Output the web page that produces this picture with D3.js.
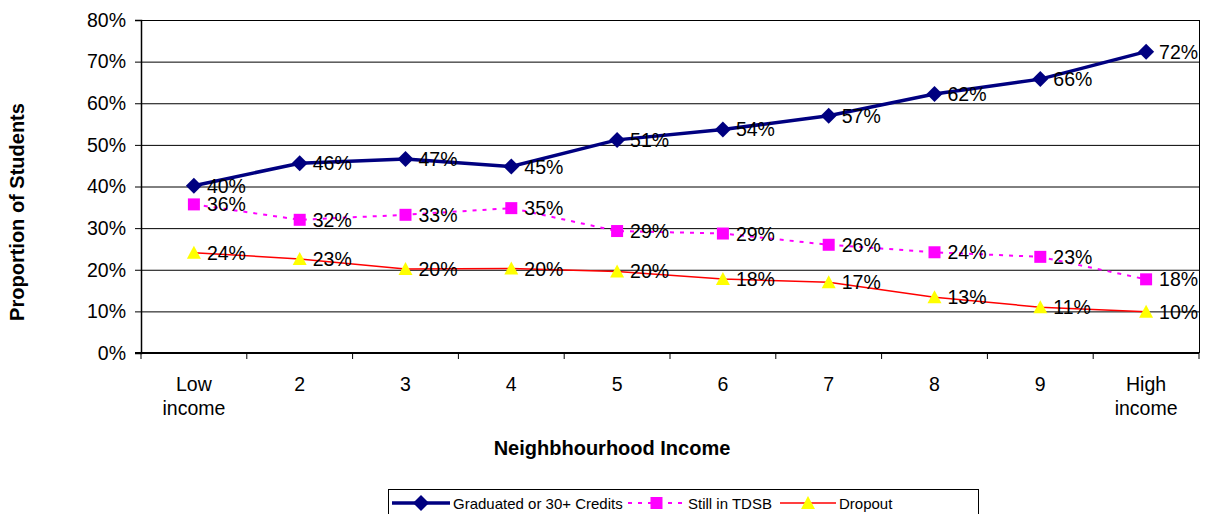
<!DOCTYPE html>
<html>
<head>
<meta charset="utf-8">
<script src="https://cdn.jsdelivr.net/npm/d3@7"></script>
<style>
  body { margin: 0; background: #fff; }
  svg { display: block; font-family: Arial, "Liberation Sans", sans-serif; }
</style>
</head>
<body>
<svg id="chart" width="1208" height="514"></svg>
<script>
// categories along x
const categories = ['Low\nincome', '2', '3', '4', '5', '6', '7', '8', '9', 'High\nincome'];
// proportions (%)
const graduated = [40.2, 45.6, 46.6, 44.8, 51.2, 53.7, 57.0, 62.2, 65.8, 72.4];
const stillInTDSB = [35.7, 32.0, 33.2, 34.8, 29.3, 28.7, 26.0, 24.2, 23.1, 17.7];
const dropout = [24.1, 22.6, 20.2, 20.3, 19.6, 17.8, 17.0, 13.4, 11.0, 9.9];
const yTicks = [0, 10, 20, 30, 40, 50, 60, 70, 80];

const series = [
  { name: 'Graduated or 30+ Credits', values: graduated, color: '#000080', width: 3.5, dash: null, marker: 'diamond', mfill: '#000080' },
  { name: 'Still in TDSB', values: stillInTDSB, color: '#ff00ff', width: 2, dash: '4,6', marker: 'square', mfill: '#ff00ff' },
  { name: 'Dropout', values: dropout, color: '#ff0000', width: 1.5, dash: null, marker: 'triangle', mfill: '#ffff00' }
];

const plotL = 141, plotR = 1199, plotT = 20, plotB = 353;
const svg = d3.select('#chart');

const x = d3.scaleBand().domain(d3.range(categories.length)).range([plotL, plotR]);
const y = d3.scaleLinear().domain([0, 80]).range([plotB, plotT]);

// gridlines
svg.append('g')
  .selectAll('line')
  .data(yTicks.filter(t => t > 0))
  .enter()
  .append('line')
  .attr('x1', plotL).attr('x2', plotR)
  .attr('y1', d => y(d) + 0.5).attr('y2', d => y(d) + 0.5)
  .attr('stroke', '#000').attr('stroke-width', 1);

// right border
svg.append('line')
  .attr('x1', plotR + 0.5).attr('x2', plotR + 0.5).attr('y1', plotT).attr('y2', plotB)
  .attr('stroke', '#000');

// y axis
const yAxis = svg.append('g')
  .attr('transform', `translate(${plotL},0)`)
  .call(d3.axisLeft(y).tickValues(yTicks).tickFormat(d => d + '%').tickSize(6).tickPadding(9));
yAxis.select('.domain').attr('stroke', '#000').attr('stroke-width', 1.5);
yAxis.selectAll('text').attr('font-size', 19.5).attr('fill', '#000').attr('font-family', 'Arial, "Liberation Sans", sans-serif');

// x axis, ticks between categories
const xAxisG = svg.append('g').attr('transform', `translate(0,${plotB})`);
xAxisG.append('line')
  .attr('x1', plotL - 6).attr('x2', plotR).attr('y1', 0).attr('y2', 0)
  .attr('stroke', '#000').attr('stroke-width', 2);
xAxisG.selectAll('line.tick')
  .data(d3.range(categories.length + 1))
  .enter()
  .append('line')
  .attr('class', 'tick')
  .attr('x1', i => plotL + i * x.bandwidth()).attr('x2', i => plotL + i * x.bandwidth())
  .attr('y1', 0).attr('y2', 6)
  .attr('stroke', '#000');
const xLabels = xAxisG.selectAll('text')
  .data(categories)
  .enter()
  .append('text')
  .attr('text-anchor', 'middle')
  .attr('font-size', 19.5)
  .attr('fill', '#000');
xLabels.each(function (d, i) {
  const lines = d.split('\n');
  lines.forEach((ln, k) => {
    d3.select(this).append('tspan')
      .attr('x', x(i) + x.bandwidth() / 2)
      .attr('y', 38 + k * 24)
      .text(ln);
  });
});

// axis titles
svg.append('text')
  .attr('x', 612).attr('y', 455)
  .attr('text-anchor', 'middle')
  .attr('font-size', 20).attr('font-weight', 'bold')
  .text('Neighbhourhood Income');
svg.append('text')
  .attr('transform', 'translate(24,212) rotate(-90)')
  .attr('text-anchor', 'middle')
  .attr('font-size', 20).attr('font-weight', 'bold')
  .text('Proportion of Students');

const cx = i => x(i) + x.bandwidth() / 2;

function markerPath(type) {
  if (type === 'diamond') return 'M0,-8L8,0L0,8L-8,0Z';
  if (type === 'square') return 'M-6,-6H6V6H-6Z';
  return 'M0,-7L7,6H-7Z';
}

const line = d3.line().x((d, i) => cx(i)).y(d => y(d));

series.forEach(s => {
  svg.append('path')
    .datum(s.values)
    .attr('d', line)
    .attr('fill', 'none')
    .attr('stroke', s.color)
    .attr('stroke-width', s.width)
    .attr('stroke-dasharray', s.dash);
});

series.forEach(s => {
  const g = svg.append('g');
  g.selectAll('path')
    .data(s.values)
    .enter()
    .append('path')
    .attr('transform', (d, i) => `translate(${cx(i)},${y(d)})`)
    .attr('d', markerPath(s.marker))
    .attr('fill', s.mfill);
  g.selectAll('text')
    .data(s.values)
    .enter()
    .append('text')
    .attr('x', (d, i) => cx(i) + 13)
    .attr('y', d => y(d) + 7)
    .attr('font-size', 19.5)
    .attr('fill', '#000')
    .text(d => Math.round(d) + '%');
});

// legend
const legend = svg.append('g');
legend.append('rect')
  .attr('x', 388.5).attr('y', 489.5).attr('width', 590).attr('height', 30)
  .attr('fill', '#fff').attr('stroke', '#000');
const legendItems = [
  { s: series[0], x0: 392, tx: 453 },
  { s: series[1], x0: 628, tx: 688 },
  { s: series[2], x0: 780, tx: 839 }
];
legendItems.forEach(it => {
  const w = it.tx - it.x0 - 3;
  const my = 503;
  legend.append('line')
    .attr('x1', it.x0).attr('x2', it.x0 + w)
    .attr('y1', my).attr('y2', my)
    .attr('stroke', it.s.color).attr('stroke-width', it.s.width)
    .attr('stroke-dasharray', it.s.dash);
  legend.append('path')
    .attr('transform', `translate(${it.x0 + w / 2},${my})`)
    .attr('d', markerPath(it.s.marker))
    .attr('fill', it.s.mfill);
  legend.append('text')
    .attr('x', it.tx).attr('y', my + 6)
    .attr('font-size', 15)
    .attr('fill', '#000')
    .text(it.s.name);
});
</script>
</body>
</html>
